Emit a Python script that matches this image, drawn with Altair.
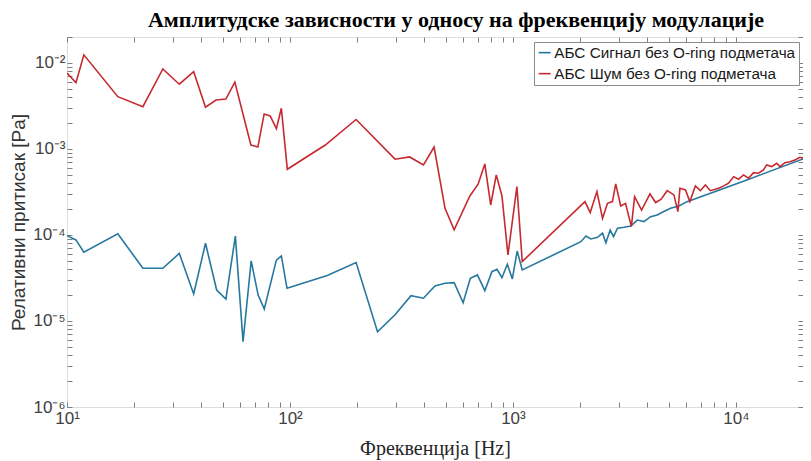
import altair as alt
import pandas as pd

SIGNAL = "АБС Сигнал без O-ring подметача"
NOISE = "АБС Шум без O-ring подметача"

signal_freq = [10, 10.97, 11.9, 16.9, 21.9, 26.9, 31.9, 37, 41.8, 46.9, 51.6, 56.9,
               61.6, 67, 72, 76.7, 86.9, 91.5, 97, 147, 198, 247, 296, 349, 397,
               447, 496, 545, 598, 644, 693, 748, 805, 848, 893, 944, 994, 1045,
               1101, 2018, 2125, 2238, 2396, 2523, 2612, 2730, 2826, 2944, 3153,
               3373, 3614, 3873, 4144, 4436, 4753, 5092, 5550, 6043, 11200, 20000]
signal_amp = [9.8e-5, 8.75e-5, 6.3e-5, 1.03e-4, 4.1e-5, 4.1e-5, 6.1e-5, 2.06e-5,
              8.0e-5, 2.29e-5, 1.8e-5, 9.7e-5, 5.75e-6, 5.0e-5, 2.0e-5, 1.38e-5,
              5.1e-5, 5.7e-5, 2.4e-5, 3.37e-5, 4.77e-5, 7.5e-6, 1.18e-5, 1.97e-5,
              1.84e-5, 2.55e-5, 2.74e-5, 2.79e-5, 1.63e-5, 3.14e-5, 3.43e-5,
              2.25e-5, 3.74e-5, 3.98e-5, 3.18e-5, 4.56e-5, 3.08e-5, 6.5e-5,
              3.92e-5, 8.35e-5, 9.7e-5, 8.98e-5, 9.4e-5, 1.05e-4, 8.13e-5,
              1.14e-4, 9.55e-5, 1.2e-4, 1.23e-4, 1.27e-4, 1.49e-4, 1.43e-4,
              1.63e-4, 1.71e-4, 1.87e-4, 2.04e-4, 2.17e-4, 2.44e-4, 4.36e-4, 7.66e-4]

noise_freq = [10, 10.97, 11.9, 16.9, 21.9, 26.9, 31.9, 37, 41.8, 46.6, 51.6, 56.6,
              66.8, 71.8, 76.6, 81.5, 86.9, 91.5, 97.3, 144, 198, 296, 344, 397,
              443, 496, 545, 641, 698, 748, 795, 842, 893, 950, 1042, 1101,
              2104, 2222, 2381, 2523, 2656, 2795, 2891, 3044, 3200, 3398, 3514,
              3777, 4118, 4365, 4624, 4918, 5272, 5495, 5610, 5943, 6214, 6583,
              6930, 7300, 7680, 8375, 8816, 9273, 9772, 10280, 10820, 11400,
              12000, 12630, 13300, 13740, 14480, 15240, 15780, 16600, 17470,
              18400, 19360, 20000]
noise_amp = [7.6e-3, 5.9e-3, 1.24e-2, 4.05e-3, 3.1e-3, 8.5e-3, 5.65e-3, 7.9e-3,
             3.05e-3, 3.7e-3, 3.8e-3, 5.97e-3, 1.11e-3, 1.05e-3, 2.55e-3, 2.42e-3,
             1.72e-3, 2.97e-3, 5.8e-4, 1.11e-3, 2.2e-3, 7.6e-4, 8.07e-4, 6.5e-4,
             1.05e-3, 2.04e-4, 1.15e-4, 2.84e-4, 3.89e-4, 6.7e-4, 2.23e-4, 4.99e-4,
             2.84e-4, 5.85e-5, 3.65e-4, 4.9e-5,
             2.44e-4, 1.82e-4, 3.19e-4, 1.56e-4, 2.33e-4, 2.44e-4, 3.92e-4, 2.17e-4,
             2.33e-4, 1.25e-4, 2.79e-4, 1.95e-4, 3.0e-4, 2.38e-4, 2.6e-4, 3.27e-4,
             2.92e-4, 1.87e-4, 3.49e-4, 3.33e-4, 2.44e-4, 3.72e-4, 3.27e-4, 3.81e-4,
             3.27e-4, 3.49e-4, 3.72e-4, 3.99e-4, 4.76e-4, 4.44e-4, 4.99e-4, 4.56e-4,
             5.3e-4, 5.21e-4, 5.7e-4, 6.52e-4, 6.23e-4, 6.82e-4, 6.23e-4, 6.93e-4,
             7.11e-4, 7.45e-4, 8.0e-4, 7.8e-4]

x_domain = [10, 20000]
y_domain = [1e-6, 2e-2]
series_order = [SIGNAL, NOISE]
series_colors = ["#26789f", "#c62a2f"]

df = pd.concat([
    pd.DataFrame({"freq": signal_freq, "amp": signal_amp, "series": SIGNAL, "order": range(len(signal_freq))}),
    pd.DataFrame({"freq": noise_freq, "amp": noise_amp, "series": NOISE, "order": range(len(noise_freq))}),
], ignore_index=True)

x_labels = ("abs(datum.value-10)<1e-6 ? '10¹' : abs(datum.value-100)<1e-6 ? '10²' : "
            "abs(datum.value-1000)<1e-6 ? '10³' : abs(datum.value-10000)<1e-6 ? '10⁴' : ''")
y_labels = ("abs(datum.value/1e-6-1)<1e-6 ? '10⁻⁶' : abs(datum.value/1e-5-1)<1e-6 ? '10⁻⁵' : "
            "abs(datum.value/1e-4-1)<1e-6 ? '10⁻⁴' : abs(datum.value/1e-3-1)<1e-6 ? '10⁻³' : "
            "abs(datum.value/1e-2-1)<1e-6 ? '10⁻²' : ''")

TICK = "#7f7f7f"
LAB = "#404040"

xscale = alt.Scale(type="log", domain=x_domain, nice=False)
yscale = alt.Scale(type="log", domain=y_domain, nice=False)

lines = alt.Chart(df).mark_line(strokeWidth=1.6, clip=True).encode(
    x=alt.X("freq:Q", scale=xscale,
            axis=alt.Axis(orient="bottom", domain=False, offset=-5, tickSize=5, tickColor=TICK,
                          labelExpr=x_labels, labelFlush=False, labelOverlap=False,
                          labelPadding=3, labelFont="Liberation Sans", labelFontSize=17,
                          labelColor=LAB, grid=False, title="Фреквенција  [Hz]",
                          titleFont="Liberation Serif", titleFontSize=20,
                          titleFontWeight="normal", titleColor="#262626", titlePadding=12)),
    y=alt.Y("amp:Q", scale=yscale,
            axis=alt.Axis(orient="left", domain=False, offset=-5, tickSize=5, tickColor=TICK,
                          labelExpr=y_labels, labelFlush=False, labelOverlap=False,
                          labelPadding=2, labelFont="Liberation Sans", labelFontSize=17,
                          labelColor=LAB, grid=False, title="Релативни притисак [Pa]",
                          titleFont="Liberation Sans", titleFontSize=19,
                          titleFontWeight="normal", titleColor="#333333", titlePadding=4)),
    color=alt.Color("series:N", scale=alt.Scale(domain=series_order, range=series_colors),
                    legend=alt.Legend(title=None, orient="none", legendX=467, legendY=5,
                                      symbolType="stroke", symbolSize=144, symbolStrokeWidth=1.6,
                                      labelFont="Liberation Sans", labelFontSize=15.3,
                                      labelColor="#1a1a1a", labelOffset=2, labelLimit=400,
                                      padding=3, rowPadding=5, strokeColor="#8c8c8c",
                                      fillColor="white")),
    order="order:Q",
)

frame = alt.Chart(df).mark_line(opacity=0).encode(
    x=alt.X("freq:Q", scale=xscale, title=None,
            axis=alt.Axis(orient="top", domain=False, offset=-5, tickSize=5, tickColor=TICK,
                          labels=False, grid=False)),
    y=alt.Y("amp:Q", scale=yscale, title=None,
            axis=alt.Axis(orient="right", domain=False, offset=-5, tickSize=5, tickColor=TICK,
                          labels=False, grid=False)),
    detail="series:N",
    order="order:Q",
)

chart = alt.layer(lines, frame).resolve_scale(x="independent", y="independent").properties(
    width=736, height=370,
    padding={"left": 59, "top": 29, "right": 0, "bottom": 54},
    autosize=alt.AutoSizeParams(type="none"),
    title=alt.TitleParams(text="Амплитудске зависности у односу на фреквенцију модулације",
                          font="Liberation Serif", fontSize=22, fontWeight="bold",
                          color="#000000", anchor="middle", dx=21, dy=8, offset=4),
).configure_view(stroke="#8c8c8c", strokeWidth=1).configure(background="white")

chart.save("out.html", embed_options={"renderer": "svg", "actions": False})
